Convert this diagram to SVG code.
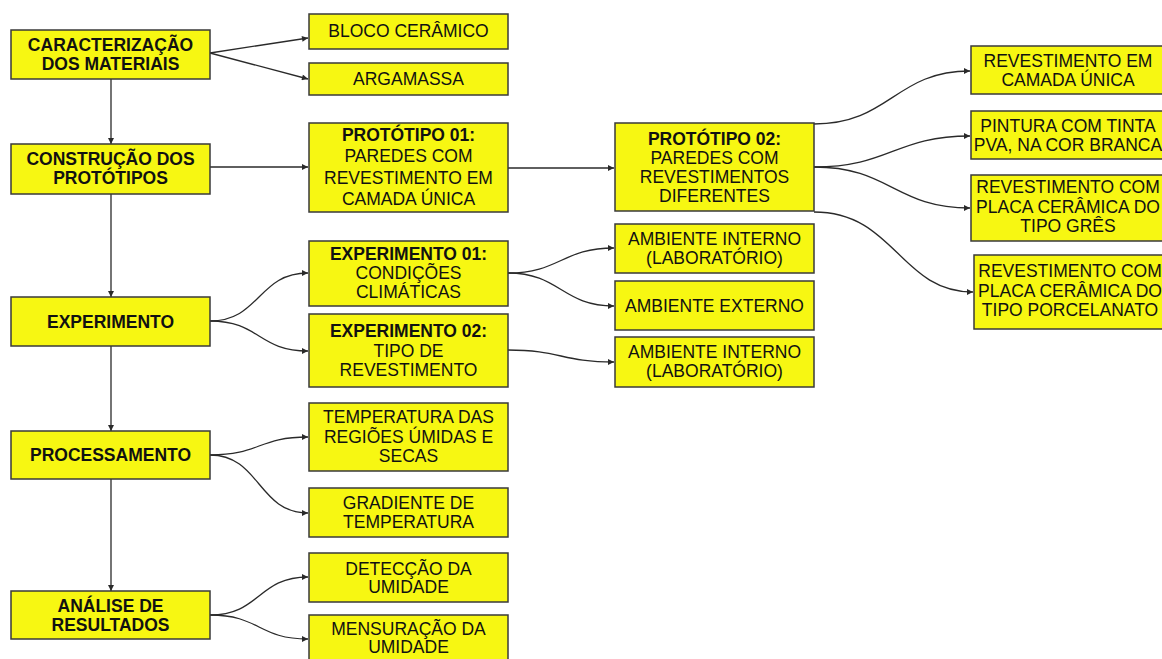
<svg xmlns="http://www.w3.org/2000/svg" width="1162" height="659" viewBox="0 0 1162 659">
<style>
.box{fill:#f7f712;stroke:#3a3a3a;stroke-width:1.5}
text{font-family:"Liberation Sans",Arial,sans-serif;font-size:17.5px;fill:#111;text-anchor:middle}
.b{font-weight:bold}
.c{fill:none;stroke:#2a2a2a;stroke-width:1.3;marker-end:url(#ah)}
</style>
<defs>
<marker id="ah" viewBox="0 0 10 10" refX="10" refY="5" markerWidth="7" markerHeight="6" markerUnits="userSpaceOnUse" orient="auto">
<path d="M0,0 L10,5 L0,10 z" fill="#2a2a2a"/>
</marker>
</defs>
<rect width="1162" height="659" fill="#fff"/>
<g id="connectors">
<path class="c" d="M111,79 V144"/>
<path class="c" d="M111,194 V297"/>
<path class="c" d="M111,346 V431"/>
<path class="c" d="M111,479 V591"/>
<path class="c" d="M210,53 L308,38"/>
<path class="c" d="M210,53 L308,79"/>
<path class="c" d="M210,167 H308"/>
<path class="c" d="M508,168 H614"/>
<path class="c" d="M210,321 C260,321 258,273 308,273"/>
<path class="c" d="M210,321 C260,321 258,351 308,351"/>
<path class="c" d="M508,273 C560,273 562,248 614,248"/>
<path class="c" d="M508,273 C560,273 562,306 614,306"/>
<path class="c" d="M508,350 C560,350 562,362 614,362"/>
<path class="c" d="M210,455 C260,455 258,437 308,437"/>
<path class="c" d="M210,455 C260,455 258,513 308,513"/>
<path class="c" d="M210,615 C260,615 258,577 308,577"/>
<path class="c" d="M210,615 C260,615 258,639 308,639"/>
<path class="c" d="M814,124 C890,124 895,71 970,71"/>
<path class="c" d="M814,167 C890,167 895,136 970,136"/>
<path class="c" d="M814,167 C890,167 895,208 970,208"/>
<path class="c" d="M814,212 C895,212 900,292 973,292"/>
</g>
<g id="n1"><rect class="box" x="11" y="30" width="199" height="49"/><text class="b" x="110.5" y="51">CARACTERIZAÇÃO</text><text class="b" x="110.5" y="70">DOS MATERIAIS</text></g>
<g id="n2"><rect class="box" x="11" y="144" width="199" height="50"/><text class="b" x="110.5" y="165">CONSTRUÇÃO DOS</text><text class="b" x="110.5" y="184">PROTÓTIPOS</text></g>
<g id="n3"><rect class="box" x="11" y="297" width="199" height="49"/><text class="b" x="110.5" y="328">EXPERIMENTO</text></g>
<g id="n4"><rect class="box" x="11" y="431" width="199" height="48"/><text class="b" x="110.5" y="461">PROCESSAMENTO</text></g>
<g id="n5"><rect class="box" x="11" y="591" width="199" height="48"/><text class="b" x="110.5" y="612">ANÁLISE DE</text><text class="b" x="110.5" y="631">RESULTADOS</text></g>
<g id="n6"><rect class="box" x="309" y="14" width="199" height="35"/><text x="408.5" y="37">BLOCO CERÂMICO</text></g>
<g id="n7"><rect class="box" x="309" y="63" width="199" height="32"/><text x="408.5" y="85">ARGAMASSA</text></g>
<g id="n8"><rect class="box" x="309" y="123" width="199" height="89"/><text class="b" x="408.5" y="141">PROTÓTIPO 01:</text><text x="408.5" y="162">PAREDES COM</text><text x="408.5" y="184">REVESTIMENTO EM</text><text x="408.5" y="205">CAMADA ÚNICA</text></g>
<g id="n9"><rect class="box" x="309" y="241" width="199" height="65"/><text class="b" x="408.5" y="260">EXPERIMENTO 01:</text><text x="408.5" y="279">CONDIÇÕES</text><text x="408.5" y="298">CLIMÁTICAS</text></g>
<g id="n10"><rect class="box" x="309" y="314" width="199" height="73"/><text class="b" x="408.5" y="337">EXPERIMENTO 02:</text><text x="408.5" y="357">TIPO DE</text><text x="408.5" y="376">REVESTIMENTO</text></g>
<g id="n11"><rect class="box" x="309" y="403" width="199" height="68"/><text x="408.5" y="423">TEMPERATURA DAS</text><text x="408.5" y="443">REGIÕES ÚMIDAS E</text><text x="408.5" y="462">SECAS</text></g>
<g id="n12"><rect class="box" x="309" y="488" width="199" height="49"/><text x="408.5" y="509">GRADIENTE DE</text><text x="408.5" y="528">TEMPERATURA</text></g>
<g id="n13"><rect class="box" x="309" y="553" width="199" height="49"/><text x="408.5" y="575">DETECÇÃO DA</text><text x="408.5" y="593">UMIDADE</text></g>
<g id="n14"><rect class="box" x="309" y="615" width="199" height="60"/><text x="408.5" y="635">MENSURAÇÃO DA</text><text x="408.5" y="653">UMIDADE</text></g>
<g id="n15"><rect class="box" x="615" y="123" width="199" height="88"/><text class="b" x="714.5" y="145">PROTÓTIPO 02:</text><text x="714.5" y="164">PAREDES COM</text><text x="714.5" y="183">REVESTIMENTOS</text><text x="714.5" y="202">DIFERENTES</text></g>
<g id="n16"><rect class="box" x="615" y="224" width="199" height="49"/><text x="714.5" y="245">AMBIENTE INTERNO</text><text x="714.5" y="264">(LABORATÓRIO)</text></g>
<g id="n17"><rect class="box" x="615" y="281" width="199" height="49"/><text x="714.5" y="312">AMBIENTE EXTERNO</text></g>
<g id="n18"><rect class="box" x="615" y="337" width="199" height="50"/><text x="714.5" y="358">AMBIENTE INTERNO</text><text x="714.5" y="377">(LABORATÓRIO)</text></g>
<g id="n19"><rect class="box" x="971" y="46" width="199" height="48"/><text x="1068" y="67">REVESTIMENTO EM</text><text x="1068" y="86">CAMADA ÚNICA</text></g>
<g id="n20"><rect class="box" x="971" y="111" width="199" height="48"/><text x="1068" y="132">PINTURA COM TINTA</text><text x="1068" y="151">PVA, NA COR BRANCA</text></g>
<g id="n21"><rect class="box" x="971" y="175" width="199" height="66"/><text x="1068" y="193">REVESTIMENTO COM</text><text x="1068" y="213">PLACA CERÂMICA DO</text><text x="1068" y="232">TIPO GRÊS</text></g>
<g id="n22"><rect class="box" x="974" y="255" width="199" height="74"/><text x="1070" y="277">REVESTIMENTO COM</text><text x="1070" y="297">PLACA CERÂMICA DO</text><text x="1070" y="316">TIPO PORCELANATO</text></g>
</svg>
